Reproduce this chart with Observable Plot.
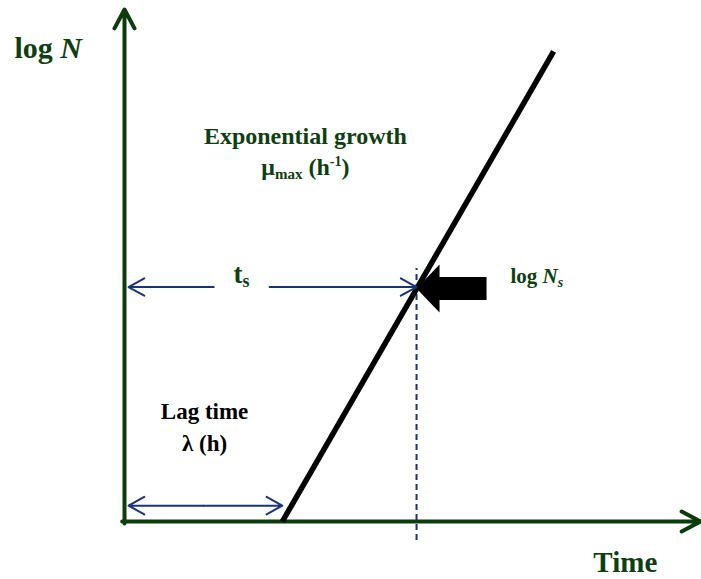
<!DOCTYPE html>
<html>
<head>
<meta charset="utf-8">
<script src="https://cdn.jsdelivr.net/npm/d3@7"></script>
<script src="https://cdn.jsdelivr.net/npm/@observablehq/plot@0.6"></script>
<style>
  html, body { margin: 0; padding: 0; background: #ffffff; }
  #chart { width: 701px; height: 579px; }
</style>
</head>
<body>
<div id="chart"></div>
<script>
// ---- data (time and log N in arbitrary units 0–100) ----
const growthTime = [27.4, 74.5];   // exponential phase start (= lag) and end
const growthLogN = [0, 91.8];
const lagTime = 27.4;              // λ
const switchTime = 50.7;           // t_s
const switchLogN = 45.5;           // log N_s
const axisTime = [0, 100];
const axisLogN = [0, 100];
const labelTexts = ["log N", "Exponential growth", "μmax (h-1)", "ts", "log Ns", "Lag time", "λ (h)", "Time"];

// rich (sub/superscript) versions of the labels
const richLabels = {
  "log N": 'log <tspan font-style="italic">N</tspan>',
  "μmax (h-1)": 'μ<tspan font-size="15" dy="4">max</tspan><tspan dy="-4"> (h</tspan><tspan font-size="14" dy="-9">-1</tspan><tspan dy="9">)</tspan>',
  "ts": 't<tspan font-size="18" dy="4">s</tspan>',
  "log Ns": 'log <tspan font-style="italic">N</tspan><tspan font-style="italic" font-size="14" dy="4">s</tspan>'
};

const green = "#0c3b0c";
const textGreen = "#0e3f10";
const navy = "#1b3478";
const serif = "'Liberation Serif', 'Times New Roman', 'DejaVu Serif', serif";

const growth = growthTime.map((t, i) => ({t, logN: growthLogN[i]}));

// filled block arrow symbol (tip at the point, pointing left)
const blockArrow = {
  draw(ctx) {
    ctx.moveTo(0, 0);
    ctx.lineTo(23, -24);
    ctx.lineTo(23, -11.5);
    ctx.lineTo(70, -11.5);
    ctx.lineTo(70, 11.5);
    ctx.lineTo(23, 11.5);
    ctx.lineTo(23, 24);
    ctx.closePath();
  }
};

const tsY = switchLogN + 0.3;
const lagY = 3.1;

const plot = Plot.plot({
  width: 701,
  height: 579,
  marginLeft: 124,
  marginRight: 1,
  marginTop: 9,
  marginBottom: 58,
  x: {domain: axisTime, axis: null},
  y: {domain: axisLogN, axis: null},
  marks: [
    // dashed guide at t_s
    Plot.ruleX([switchTime], {y1: -3.7, y2: 49.4, stroke: navy, strokeWidth: 2, strokeDasharray: "6,4"}),
    // axes with arrow heads
    Plot.arrow([{x1: 0, y1: -0.4, x2: 0, y2: axisLogN[1]}], {x1: "x1", y1: "y1", x2: "x2", y2: "y2", stroke: green, strokeWidth: 4, headLength: 8, headAngle: 56}),
    Plot.arrow([{x1: -0.4, y1: 0, x2: axisTime[1], y2: 0}], {x1: "x1", y1: "y1", x2: "x2", y2: "y2", stroke: green, strokeWidth: 4, headLength: 8, headAngle: 56}),
    // growth line
    Plot.line(growth, {x: "t", y: "logN", stroke: "black", strokeWidth: 5.5, strokeLinecap: "butt"}),
    // block arrow pointing at log N_s
    Plot.dot([{t: switchTime, logN: switchLogN}], {x: "t", y: "logN", symbol: blockArrow, fill: "black", stroke: null}),
    // t_s double arrow (split around label)
    Plot.arrow([
      {x1: 15.5, x2: 0.7, y: tsY},
      {x1: 25.2, x2: switchTime, y: tsY}
    ], {x1: "x1", x2: "x2", y1: "y", y2: "y", stroke: navy, strokeWidth: 2, headLength: 13.5, headAngle: 58}),
    // lag double arrow
    Plot.arrow([
      {x1: lagTime / 2, x2: 0.7, y: lagY},
      {x1: lagTime / 2, x2: lagTime, y: lagY}
    ], {x1: "x1", x2: "x2", y1: "y", y2: "y", stroke: navy, strokeWidth: 2, headLength: 13.5, headAngle: 58}),
    // labels
    Plot.text([{x: -19.1, y: 92.5, s: labelTexts[0]}], {x: "x", y: "y", text: "s", textAnchor: "start", fontSize: 30, fontWeight: "bold", fontFamily: serif, fill: textGreen}),
    Plot.text([{x: 31.4, y: 75.3, s: labelTexts[1]}, {x: 31.4, y: 69.1, s: labelTexts[2]}], {x: "x", y: "y", text: "s", textAnchor: "middle", fontSize: 24, fontWeight: "bold", fontFamily: serif, fill: textGreen}),
    Plot.text([{x: 20.3, y: 48.2, s: labelTexts[3]}], {x: "x", y: "y", text: "s", textAnchor: "middle", fontSize: 27, fontWeight: "bold", fontFamily: serif, fill: textGreen}),
    Plot.text([{x: 67.0, y: 47.8, s: labelTexts[4]}], {x: "x", y: "y", text: "s", textAnchor: "start", fontSize: 21, fontWeight: "bold", fontFamily: serif, fill: textGreen}),
    Plot.text([{x: 13.9, y: 21.4, s: labelTexts[5]}, {x: 13.9, y: 15.3, s: labelTexts[6]}], {x: "x", y: "y", text: "s", textAnchor: "middle", fontSize: 23, fontWeight: "bold", fontFamily: serif, fill: "#000000"}),
    Plot.text([{x: 81.4, y: -8.1, s: labelTexts[7]}], {x: "x", y: "y", text: "s", textAnchor: "start", fontSize: 29, fontWeight: "bold", fontFamily: serif, fill: textGreen})
  ]
});

// apply sub/superscripts and italics
d3.select(plot).selectAll("text").each(function () {
  const t = this.textContent;
  if (richLabels[t]) this.innerHTML = richLabels[t];
});

document.getElementById("chart").appendChild(plot);
</script>
</body>
</html>
